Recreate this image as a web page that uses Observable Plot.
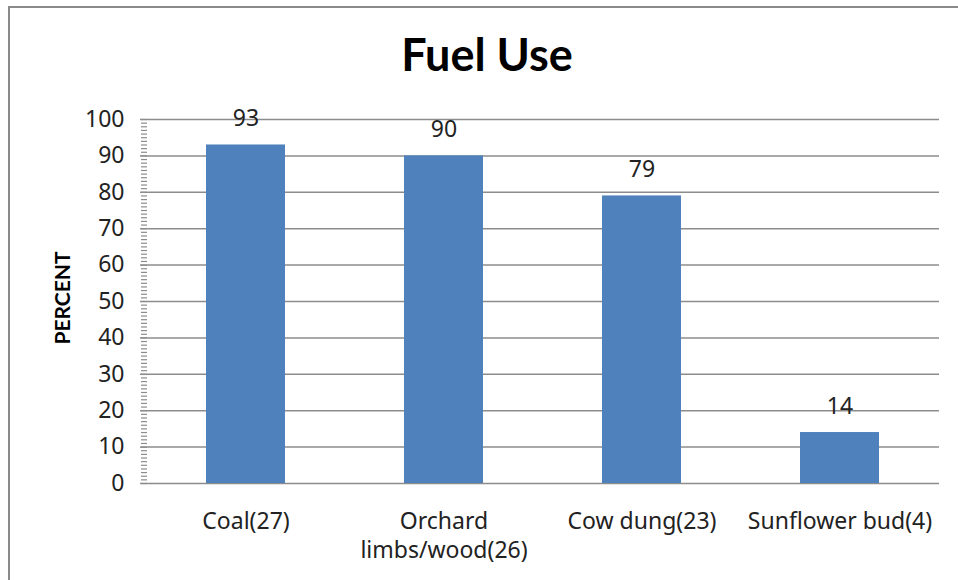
<!DOCTYPE html>
<html>
<head>
<meta charset="utf-8">
<script src="https://cdn.jsdelivr.net/npm/d3@7"></script>
<script src="https://cdn.jsdelivr.net/npm/@observablehq/plot@0.6"></script>
<style>
  html, body { margin: 0; padding: 0; background: #fff; }
  #wrap { position: relative; width: 958px; height: 580px; overflow: hidden; background: #fff; }
  #border { position: absolute; left: 8px; top: 6px; width: 1000px; height: 1000px; border: 2px solid #8a8a8a; box-sizing: border-box; }
  #title { position: absolute; left: 0; width: 974px; top: 27px; text-align: center; font: bold 45px Lato, "Open Sans", sans-serif; color: #000; }
  #ylabel { position: absolute; left: 61px; top: 298px; transform: translate(-50%, -50%) rotate(-90deg); font: bold 21px Lato, "Open Sans", sans-serif; color: #000; white-space: nowrap; }
  #chart { position: absolute; left: 0; top: 0; }
</style>
</head>
<body>
<div id="wrap">
  <div id="border"></div>
  <div id="chart"></div>
  <div id="title">Fuel Use</div>
  <div id="ylabel">PERCENT</div>
</div>
<script>
const categories = ["Coal(27)", "Orchard\nlimbs/wood(26)", "Cow dung(23)", "Sunflower bud(4)"];
const values = [93, 90, 79, 14];
const yTicks = [0, 10, 20, 30, 40, 50, 60, 70, 80, 90, 100];
const yMinorTicks = d3.range(0, 101, 1);

const data = categories.map((c, i) => ({category: c, value: values[i]}));
const font = "'Noto Sans', 'Open Sans', sans-serif";
const grid = "#8c8c8c";
const fs = 23;

const chart = Plot.plot({
  width: 958,
  height: 580,
  marginLeft: 147,
  marginRight: 19,
  marginTop: 119,
  marginBottom: 97,
  style: {fontFamily: font, fontSize: fs + "px", color: "#222", background: "transparent"},
  x: {domain: categories, paddingInner: 0.6, paddingOuter: 0.3, label: null},
  y: {domain: [0, 100], label: null},
  marks: [
    Plot.ruleY(yTicks, {stroke: grid, strokeWidth: 1.5}),
    Plot.barY(data, {x: "category", y: "value", fill: "#4F81BD"}),
    Plot.text(data, {x: "category", y: "value", text: d => String(d.value), dy: -26, lineAnchor: "middle", fill: "#222", fontSize: fs}),
    Plot.axisY({ticks: yMinorTicks, tickSize: 6, text: null, stroke: grid, strokeWidth: 1.2}),
    Plot.axisY({ticks: yTicks, tickSize: 7, tickPadding: 16, stroke: grid, strokeWidth: 1.5, fill: "#222", fontSize: fs, label: null}),
    Plot.ruleX([0], {frameAnchor: "left", stroke: grid, strokeWidth: 1.5}),
    Plot.axisX({tickSize: 0, tickPadding: 25, lineHeight: 1.27, fill: "#222", fontSize: fs, label: null})
  ]
});
document.getElementById("chart").appendChild(chart);
</script>
</body>
</html>
